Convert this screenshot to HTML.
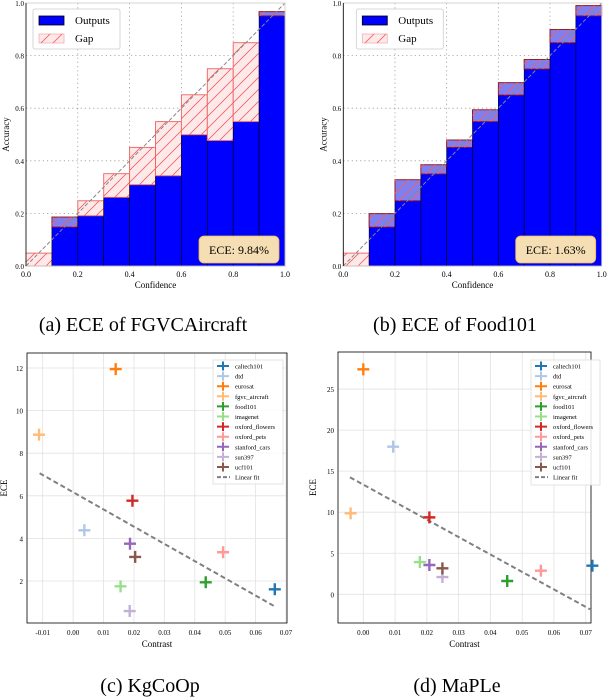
<!DOCTYPE html>
<html><head><meta charset="utf-8"><style>
html,body{margin:0;padding:0;background:#fff;width:608px;height:700px;overflow:hidden}
svg{display:block}
text{font-family:"Liberation Serif","DejaVu Serif",serif}
</style></head><body>
<svg id="s" width="608" height="700" viewBox="0 0 608 700" font-family="Liberation Serif, DejaVu Serif, serif">
<defs>
<pattern id="hatch" patternUnits="userSpaceOnUse" width="12" height="12">
<path d="M-3,3 L3,-3 M0,12 L12,0 M9,15 L15,9" stroke="#f06060" stroke-width="0.8"/>
</pattern>
</defs>
</svg>
<script>
// ---- reliability data ----
const binsA = [0,0.1,0.2,0.3,0.4,0.5,0.6,0.7,0.8,0.9];
const accA = [0,0.186,0.191,0.261,0.309,0.343,0.499,0.477,0.549,0.967];
const confA = [0.049,0.148,0.248,0.351,0.451,0.549,0.651,0.750,0.849,0.951];
const accB = [0,0.199,0.328,0.385,0.479,0.594,0.697,0.785,0.899,0.990];
const confB = [0.049,0.148,0.248,0.350,0.451,0.549,0.650,0.749,0.849,0.951];
const relTicks = [0,0.2,0.4,0.6,0.8,1.0];
// ---- scatter data ----
const names = ["caltech101","dtd","eurosat","fgvc_aircraft","food101","imagenet","oxford_flowers","oxford_pets","stanford_cars","sun397","ucf101"];
const colors = ["#1f77b4","#aec7e8","#ff7f0e","#ffbb78","#2ca02c","#98df8a","#d62728","#ff9896","#9467bd","#c5b0d5","#8c564b"];
const cX = [0.0663,0.0037,0.014,-0.0112,0.0436,0.0156,0.0195,0.0493,0.0187,0.0186,0.0204];
const cY = [1.61,4.38,11.95,8.87,1.94,1.75,5.77,3.35,3.75,0.59,3.13];
const cLine = [[-0.011,7.06],[0.066,0.83]];
const cXTicks = [-0.01,0,0.01,0.02,0.03,0.04,0.05,0.06,0.07];
const cYTicks = [2,4,6,8,10,12];
const dX = [0.0721,0.0094,0.0,-0.004,0.0453,0.0178,0.0208,0.0559,0.0208,0.0249,0.0249];
const dY = [3.48,17.98,27.4,9.86,1.62,3.93,9.37,2.88,3.57,2.1,3.16];
const dLine = [[-0.0042,14.25],[0.0714,-1.83]];
const dXTicks = [0,0.01,0.02,0.03,0.04,0.05,0.06,0.07];
const dYTicks = [0,5,10,15,20,25];

const S = document.getElementById('s');
const NS = 'http://www.w3.org/2000/svg';
function mk(tag, attrs, parent, txt){const e=document.createElementNS(NS,tag);for(const k in attrs)e.setAttribute(k,attrs[k]);if(tag==='text')e.setAttribute('font-family','Liberation Serif, DejaVu Serif, serif');if(txt!==undefined)e.textContent=txt;(parent||S).appendChild(e);return e;}

function reliability(L,R,T,B,acc,conf,ece,key){
  const g = mk('g',{});
  
  
  const x=v=>L+(R-L)*v, y=v=>B-(B-T)*v;
  relTicks.forEach(t=>{
    if(t>0&&t<1){mk('line',{x1:x(t),x2:x(t),y1:T,y2:B,stroke:'#999','stroke-dasharray':'1.2,3','stroke-width':0.8},g);
    mk('line',{x1:L,x2:R,y1:y(t),y2:y(t),stroke:'#999','stroke-dasharray':'1.2,3','stroke-width':0.8},g);}
  });
  binsA.forEach((b,i)=>{
    const bar = mk('rect',{x:x(b),y:y(acc[i]),width:x(0.1)-x(0),height:B-y(acc[i]),fill:'#0000ff',stroke:'#000','stroke-width':0.6},g);
    
    
    const lo=Math.min(acc[i],conf[i]),hi=Math.max(acc[i],conf[i]);
    const over = conf[i]<acc[i];
    const gp = mk('rect',{x:x(b),y:y(hi),width:x(0.1)-x(0),height:y(lo)-y(hi),fill:over?'#7f7ff0':'#fde9e9',stroke:over?'#a01010':'#f06060','stroke-width':0.9},g);
    
    
    mk('rect',{x:x(b),y:y(hi),width:x(0.1)-x(0),height:y(lo)-y(hi),fill:'url(#hatch)'},g);
  });
  mk('line',{x1:x(0),y1:y(0),x2:x(1),y2:y(1),stroke:'#888','stroke-dasharray':'4,2','stroke-width':1},g);
  mk('rect',{x:L,y:T,width:R-L,height:B-T,fill:'none',stroke:'#ccc','stroke-width':0.8},g);
  mk('line',{x1:L,x2:L,y1:T,y2:B,stroke:'#000','stroke-width':0.8},g);
  relTicks.forEach(t=>{
    mk('text',{x:x(t),y:B+11,'font-size':8,'text-anchor':'middle'},g,t.toFixed(1));
    mk('text',{x:L-2,y:y(t)+3,'font-size':7,'text-anchor':'end'},g,t.toFixed(1));
  });
  mk('text',{x:(L+R)/2,y:B+22,'font-size':9,'text-anchor':'middle'},g,'Confidence');
  mk('text',{x:0,y:0,'font-size':9,'text-anchor':'middle',transform:`translate(${L-17},${(T+B)/2}) rotate(-90)`},g,'Accuracy');
  const lg = mk('g',{},g);
  
  
  const lx=L+7+(key==='b'?6:0), ly=T+6;
  mk('rect',{x:lx,y:ly,width:87,height:40,fill:'#fff',stroke:'#ccc','stroke-width':0.8,rx:2},lg);
  mk('rect',{x:lx+6,y:ly+7,width:25,height:9,fill:'#0000ff',stroke:'#000','stroke-width':0.8},lg);
  mk('text',{x:lx+42,y:ly+15,'font-size':11},lg,'Outputs');
  mk('rect',{x:lx+6,y:ly+25,width:25,height:9,fill:'#fde9e9',stroke:'#f6b0b0','stroke-width':0.8},lg);
  mk('rect',{x:lx+6,y:ly+25,width:25,height:9,fill:'url(#hatch)'},lg);
  mk('text',{x:lx+42,y:ly+33,'font-size':11},lg,'Gap');
  const eb = mk('g',{},g);
  
  
  mk('rect',{x:R-86,y:B-30,width:80,height:27,rx:5,fill:'#f5deb3',stroke:'#f0b840','stroke-width':0.8},eb);
  mk('text',{x:R-46,y:B-12,'font-size':12,'text-anchor':'middle'},eb,'ECE: '+ece);
}
reliability(26,285,3,266,accA,confA,'9.84%','a');
reliability(343.3,601.7,3,266,accB,confB,'1.63%','b');

function scatter(L,R,T,B,x0,xs,y0,ys,X,Y,line,xt,yt,key,lgBox,yl){
  const g = mk('g',{});
  
  
  const x=v=>x0+xs*v, y=v=>y0-ys*v;
  xt.forEach(t=>{mk('line',{x1:x(t),x2:x(t),y1:T,y2:B,stroke:'#e2e2e2','stroke-width':0.8},g);});
  yt.forEach(t=>{mk('line',{x1:L,x2:R,y1:y(t),y2:y(t),stroke:'#e2e2e2','stroke-width':0.8},g);});
  mk('rect',{x:L,y:T,width:R-L,height:B-T,fill:'none',stroke:'#000','stroke-width':0.8},g);
  xt.forEach(t=>mk('text',{x:x(t),y:B+12,'font-size':7,'text-anchor':'middle'},g,t.toFixed(2)));
  yt.forEach(t=>mk('text',{x:L-4,y:y(t)+3,'font-size':7,'text-anchor':'end'},g,String(t)));
  mk('text',{x:(L+R)/2,y:B+24,'font-size':9,'text-anchor':'middle'},g,'Contrast');
  mk('text',{x:0,y:0,'font-size':9,'text-anchor':'middle',transform:`translate(${yl},${(T+B)/2}) rotate(-90)`},g,'ECE');
  const ln = mk('line',{x1:x(line[0][0]),y1:y(line[0][1]),x2:x(line[1][0]),y2:y(line[1][1]),stroke:'#808080','stroke-width':2,'stroke-dasharray':'5,3'},g);
  
  
  X.forEach((v,i)=>{
    const p = mk('path',{d:`M${x(v)-6},${y(Y[i])}h12M${x(v)},${y(Y[i])-6}v12`,stroke:colors[i],'stroke-width':2.4},g);
    
    
  });
  const lg = mk('g',{},g);
  
  
  const [lx,ly,lw,lh]=lgBox;
  mk('rect',{x:lx,y:ly,width:lw,height:lh,fill:'#fff','fill-opacity':0.85,stroke:'#ddd','stroke-width':0.8},lg);
  names.forEach((n,i)=>{
    const yy=ly+6+i*10.1;
    mk('path',{d:`M${lx+4},${yy}h12M${lx+10},${yy-4.5}v9`,stroke:colors[i],'stroke-width':2},lg);
    mk('text',{x:lx+22,y:yy+2.5,'font-size':6.5},lg,n);
  });
  const yy=ly+6+11*10.1;
  mk('line',{x1:lx+4,x2:lx+17,y1:yy,y2:yy,stroke:'#808080','stroke-width':2,'stroke-dasharray':'4,2'},lg);
  mk('text',{x:lx+22,y:yy+2.5,'font-size':6.5},lg,'Linear fit');
}
scatter(27,287,353,623,73.1,3042,623.6,21.3,cX,cY,cLine,cXTicks,cYTicks,'c',[213,360,70,124],7);
scatter(338,591,352,623,363.3,3177,594.3,8.21,dX,dY,dLine,dXTicks,dYTicks,'d',[531,360,69,125],316);

const caps=[[143,331,'(a) ECE of FGVCAircraft'],[455,331,'(b) ECE of Food101'],[150,692,'(c) KgCoOp'],[457,692,'(d) MaPLe']];
caps.forEach(c=>{const t=mk('text',{x:c[0],y:c[1],'font-size':20,'text-anchor':'middle'},S,c[2]);

});
</script>
</body></html>
